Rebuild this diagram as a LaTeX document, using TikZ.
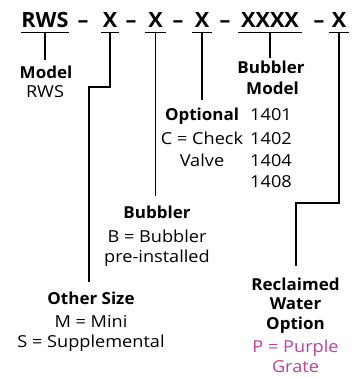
\documentclass[tikz,border=0pt]{standalone}
\usepackage{fontspec}
\setmainfont{Open Sans}[FakeStretch=1.1, BoldFeatures={FakeStretch=1.03}]
\definecolor{grape}{RGB}{192,64,160}
\tikzset{
  x=1pt, y=1pt,
  hdr/.style={font=\fontsize{21}{24}\selectfont\bfseries, inner sep=0pt, text depth=0pt, anchor=base},
  ttl/.style={font=\fontsize{16.5}{20}\selectfont\bfseries, inner sep=0pt, anchor=base},
  txt/.style={font=\fontsize{16.5}{20}\selectfont, inner sep=0pt, anchor=base},
  ln/.style={line width=1.2pt},
  ul/.style={line width=1.6pt},
}
\begin{document}
\begin{tikzpicture}
\useasboundingbox (0,0) rectangle (356,-377);
% header
\node[hdr, minimum width=47] (h0) at (45,-28) {RWS};
\node[hdr] (d1) at (83,-28) {–};
\node[hdr, minimum width=18] (h1) at (110,-28) {X};
\node[hdr] (d2) at (131,-28) {–};
\node[hdr, minimum width=20] (h2) at (155.5,-28) {X};
\node[hdr] (d3) at (178,-28) {–};
\node[hdr, minimum width=20] (h3) at (202,-28) {X};
\node[hdr] (d4) at (225,-28) {–};
\node[hdr, minimum width=63] (h4) at (270,-28) {XXXX};
\node[hdr] (d5) at (319,-28) {–};
\node[hdr, minimum width=19] (h5) at (339,-28) {X};
\foreach \h in {h0,h1,h2,h3,h4,h5}
  \draw[ul] ([yshift=-4.3pt]\h.south west) -- ([yshift=-4.3pt]\h.south east);
% labels
\node[ttl] (m0) at (46,-78.5) {Model};
\node[txt] (m1) at (45,-98) {RWS};
\node[ttl] (bm0) at (271,-74) {Bubbler};
\node[ttl] (bm1) at (272.5,-95) {Model};
\node[ttl] (op0) at (202,-121) {Optional};
\node[txt] (op1) at (202,-144) {C = Check};
\node[txt] (op2) at (202,-166) {Valve};
\node[txt] (n1) at (271,-121) {1401};
\node[txt] (n2) at (271,-144) {1402};
\node[txt] (n3) at (271,-166) {1404};
\node[txt] (n4) at (271,-187) {1408};
\node[ttl] (b0) at (157,-218.5) {Bubbler};
\node[txt] (b1) at (157,-242) {B = Bubbler};
\node[txt] (b2) at (157,-262.5) {pre-installed};
\node[ttl] (o0) at (91,-304.5) {Other Size};
\node[txt] (o1) at (91,-327) {M = Mini};
\node[txt] (o2) at (91,-347.5) {S = Supplemental};
\node[ttl] (r0) at (295.5,-290.5) {Reclaimed};
\node[ttl] (r1) at (295.5,-309.5) {Water};
\node[ttl] (r2) at (295.5,-329) {Option};
\node[txt, text=grape] (r3) at (295.5,-352.5) {P = Purple};
\node[txt, text=grape] (r4) at (295.5,-372) {Grate};
% connector ends
\coordinate (e0) at (45,-60);
\coordinate (c1) at (89,-87);
\coordinate (e1) at (89,-282);
\coordinate (e2) at (155.5,-196);
\coordinate (e3) at (202,-100);
\coordinate (e4) at (270,-58);
\coordinate (c5) at (296,-203);
\coordinate (e5) at (296,-266);
% connectors
\draw[ln] ([yshift=-4.3pt]h0.south) -- (e0);
\draw[ln] ([yshift=-4.3pt]h1.south) |- (c1) -- (e1);
\draw[ln] ([yshift=-4.3pt]h2.south) -- (e2);
\draw[ln] ([yshift=-4.3pt]h3.south) -- (e3);
\draw[ln] ([yshift=-4.3pt]h4.south) -- (e4);
\draw[ln] ([yshift=-4.3pt]h5.south) |- (c5) -- (e5);
\end{tikzpicture}
\end{document}
